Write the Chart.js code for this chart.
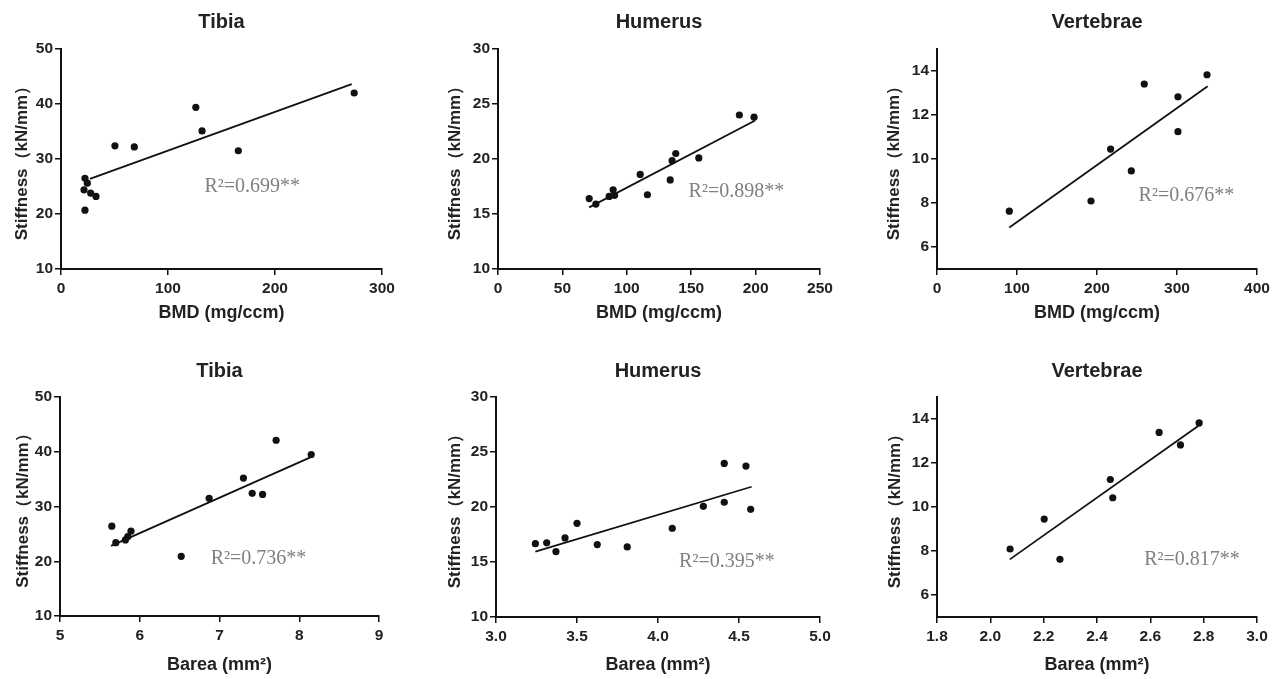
<!DOCTYPE html>
<html>
<head>
<meta charset="utf-8">
<script src="https://cdn.jsdelivr.net/npm/chart.js@4.4.1/dist/chart.umd.min.js"></script>
<style>
  html, body { margin:0; padding:0; background:#fff; width:1277px; height:679px; overflow:hidden; }
  .panel { position:absolute; }
</style>
</head>
<body>
<div class="panel" style="left:0;top:0;width:420px;height:330px"><canvas id="c1"></canvas></div>
<div class="panel" style="left:420px;top:0;width:430px;height:330px"><canvas id="c2"></canvas></div>
<div class="panel" style="left:850px;top:0;width:427px;height:330px"><canvas id="c3"></canvas></div>
<div class="panel" style="left:0;top:330px;width:420px;height:349px"><canvas id="c4"></canvas></div>
<div class="panel" style="left:420px;top:330px;width:430px;height:349px"><canvas id="c5"></canvas></div>
<div class="panel" style="left:850px;top:330px;width:427px;height:349px"><canvas id="c6"></canvas></div>
<script>
// ── Datos ─────────────────────────────────────────────────────────────────
// Tibia · BMD
const tibiaBmdX    = [22.4, 21.5, 24.6, 27.7, 32.7, 22.4, 50.4, 68.5, 126, 131.8, 165.7, 274];
const tibiaBmdY    = [26.5, 24.4, 25.6, 23.8, 23.2, 20.7, 32.4, 32.2, 39.4, 35.1, 31.5, 42.0];
const tibiaBmdFitX = [27, 271.7];
const tibiaBmdFitY = [26.4, 43.6];

// Humerus · BMD
const humerusBmdX    = [70.8, 76, 86.3, 89.4, 90.5, 110.4, 116, 133.7, 135.2, 138, 155.9, 187.4, 198.8];
const humerusBmdY    = [16.4, 15.9, 16.6, 17.2, 16.7, 18.6, 16.75, 18.1, 19.85, 20.5, 20.1, 24.0, 23.8];
const humerusBmdFitX = [70.8, 199.6];
const humerusBmdFitY = [15.6, 23.5];

// Vertebrae · BMD
const vertBmdX    = [90.4, 192.5, 217, 242.9, 259.1, 301.2, 301.2, 337.5];
const vertBmdY    = [7.63, 8.09, 10.45, 9.46, 13.41, 12.83, 11.24, 13.83];
const vertBmdFitX = [90.4, 338.3];
const vertBmdFitY = [6.89, 13.31];

// Tibia · Barea
const tibiaBareaX    = [5.65, 5.70, 5.82, 5.85, 5.89, 6.52, 6.87, 7.30, 7.41, 7.54, 7.71, 8.15];
const tibiaBareaY    = [26.4, 23.4, 23.9, 24.5, 25.5, 20.9, 31.5, 35.2, 32.4, 32.2, 42.1, 39.5];
const tibiaBareaFitX = [5.64, 8.16];
const tibiaBareaFitY = [22.8, 39.1];

// Humerus · Barea
const humerusBareaX    = [3.243, 3.313, 3.37, 3.426, 3.50, 3.625, 3.81, 4.088, 4.28, 4.409, 4.409, 4.543, 4.572];
const humerusBareaY    = [16.67, 16.74, 15.95, 17.19, 18.52, 16.58, 16.37, 18.07, 20.06, 23.96, 20.43, 23.72, 19.79];
const humerusBareaFitX = [3.243, 4.578];
const humerusBareaFitY = [15.95, 21.84];

// Vertebrae · Barea
const vertBareaX    = [2.074, 2.202, 2.261, 2.45, 2.459, 2.633, 2.713, 2.783];
const vertBareaY    = [8.09, 9.45, 7.62, 11.25, 10.42, 13.39, 12.82, 13.82];
const vertBareaFitX = [2.073, 2.79];
const vertBareaFitY = [7.62, 13.77];

// Ticks
const ticksBmdTibia    = [0, 100, 200, 300];
const ticksBmdHumerus  = [0, 50, 100, 150, 200, 250];
const ticksBmdVert     = [0, 100, 200, 300, 400];
const ticksBareaTibia  = [5, 6, 7, 8, 9];
const ticksBareaHumerus= [3.0, 3.5, 4.0, 4.5, 5.0];
const ticksBareaVert   = [1.8, 2.0, 2.2, 2.4, 2.6, 2.8, 3.0];
const ticksYTibia      = [10, 20, 30, 40, 50];
const ticksYHumerus    = [10, 15, 20, 25, 30];
const ticksYVert       = [6, 8, 10, 12, 14];

const titulos   = ["Tibia", "Humerus", "Vertebrae", "Tibia", "Humerus", "Vertebrae"];
const r2Textos  = ["R²=0.699**", "R²=0.898**", "R²=0.676**", "R²=0.736**", "R²=0.395**", "R²=0.817**"];

const FUENTE = "'Liberation Sans', Arial, sans-serif";
const NEGRO  = "#111";
const TEXTO  = "#222";

const zip = (xs, ys) => xs.map((x, i) => ({ x, y: ys[i] }));

// ── Paneles: datos + geometría ────────────────────────────────────────────
const paneles = [
  { id:"c1", x:tibiaBmdX, y:tibiaBmdY, fx:tibiaBmdFitX, fy:tibiaBmdFitY, xt:ticksBmdTibia, yt:ticksYTibia,
    xMin:0, xMax:300, yMin:10, yMax:50, dec:0, xTitle:"BMD (mg/ccm)", r2At:[134, 25],
    yW:61, padR:38, xH:61, tTop:10.7, tBot:14.3, yPad:12, xPad:6.2 },
  { id:"c2", x:humerusBmdX, y:humerusBmdY, fx:humerusBmdFitX, fy:humerusBmdFitY, xt:ticksBmdHumerus, yt:ticksYHumerus,
    xMin:0, xMax:250, yMin:10, yMax:30, dec:0, xTitle:"BMD (mg/ccm)", r2At:[148, 17.05],
    yW:78, padR:30, xH:61, tTop:10.7, tBot:14.3, yPad:25.6, xPad:6.2 },
  { id:"c3", x:vertBmdX, y:vertBmdY, fx:vertBmdFitX, fy:vertBmdFitY, xt:ticksBmdVert, yt:ticksYVert,
    xMin:0, xMax:400, yMin:5, yMax:15, dec:0, xTitle:"BMD (mg/ccm)", r2At:[252, 8.32],
    yW:87, padR:20, xH:61, tTop:10.7, tBot:14.3, yPad:34.5, xPad:6.2 },
  { id:"c4", x:tibiaBareaX, y:tibiaBareaY, fx:tibiaBareaFitX, fy:tibiaBareaFitY, xt:ticksBareaTibia, yt:ticksYTibia,
    xMin:5, xMax:9, yMin:10, yMax:50, dec:0, xTitle:"Barea (mm²)", r2At:[6.89, 20.5],
    yW:60, padR:41, xH:63, tTop:29.7, tBot:13.3, yPad:13, xPad:3.2 },
  { id:"c5", x:humerusBareaX, y:humerusBareaY, fx:humerusBareaFitX, fy:humerusBareaFitY, xt:ticksBareaHumerus, yt:ticksYHumerus,
    xMin:3, xMax:5, yMin:10, yMax:30, dec:1, xTitle:"Barea (mm²)", r2At:[4.13, 15.0],
    yW:76, padR:30, xH:62, tTop:29.7, tBot:13.3, yPad:25.3, xPad:3.2 },
  { id:"c6", x:vertBareaX, y:vertBareaY, fx:vertBareaFitX, fy:vertBareaFitY, xt:ticksBareaVert, yt:ticksYVert,
    xMin:1.8, xMax:3.0, yMin:5, yMax:15, dec:1, xTitle:"Barea (mm²)", r2At:[2.577, 7.62],
    yW:87, padR:20, xH:62, tTop:29.7, tBot:13.3, yPad:35.3, xPad:3.2 }
];

// Texto R² en gris serif, anclado en coordenadas de datos
const pluginR2 = {
  id: "r2",
  afterDatasetsDraw(chart, args, opts) {
    const { ctx, scales } = chart;
    ctx.save();
    ctx.font = "20px 'Liberation Serif', 'Times New Roman', serif";
    ctx.fillStyle = "#808080";
    ctx.textAlign = "left";
    ctx.textBaseline = "middle";
    ctx.fillText(opts.text, scales.x.getPixelForValue(opts.at[0]), scales.y.getPixelForValue(opts.at[1]));
    ctx.restore();
  }
};

function ejeComun(p, esX) {
  return {
    type: "linear",
    min: esX ? p.xMin : p.yMin,
    max: esX ? p.xMax : p.yMax,
    afterBuildTicks: s => { s.ticks = (esX ? p.xt : p.yt).map(v => ({ value: v })); },
    afterFit: s => {
      if (esX) { s.height = p.xH; s.paddingLeft = 0; s.paddingRight = 0; }
      else     { s.width = p.yW;  s.paddingTop = 0;  s.paddingBottom = 0; }
    },
    grid:   { display:true, drawOnChartArea:false, drawTicks:true, tickLength:6, color:NEGRO, lineWidth:1.5 },
    border: { display:true, color:NEGRO, width:2 },
    ticks: {
      autoSkip:false, maxRotation:0, color:TEXTO, padding: esX ? 4 : 2,
      font: { family:FUENTE, size:15.5, weight:"bold" },
      callback: v => esX ? Number(v).toFixed(p.dec) : String(v)
    },
    title: {
      display:true, color:TEXTO,
      text: esX ? p.xTitle : "Stiffness（kN/mm）",
      font: { family:FUENTE, size: esX ? 18 : 17, weight:"bold" },
      padding: esX ? { top:0, bottom:p.xPad } : { top:p.yPad, bottom:0 }
    }
  };
}

paneles.forEach((p, i) => {
  new Chart(document.getElementById(p.id), {
    type: "scatter",
    data: {
      datasets: [
        { data: zip(p.x, p.y), pointRadius:3.6, pointHoverRadius:3.6, pointBackgroundColor:NEGRO, pointBorderWidth:0, showLine:false },
        { data: zip(p.fx, p.fy), showLine:true, borderColor:NEGRO, borderWidth:1.8, pointRadius:0 }
      ]
    },
    options: {
      responsive:true, maintainAspectRatio:false, animation:false,
      layout: { padding: { top:0, left:0, right:p.padR, bottom:0 } },
      scales: { x: ejeComun(p, true), y: ejeComun(p, false) },
      plugins: {
        legend: { display:false },
        tooltip: { enabled:false },
        title: {
          display:true, text:titulos[i], color:TEXTO, fullSize:false,
          font: { family:FUENTE, size:20, weight:"bold" },
          padding: { top:p.tTop, bottom:p.tBot }
        },
        r2: { text:r2Textos[i], at:p.r2At }
      }
    },
    plugins: [pluginR2]
  });
});
</script>
</body>
</html>
